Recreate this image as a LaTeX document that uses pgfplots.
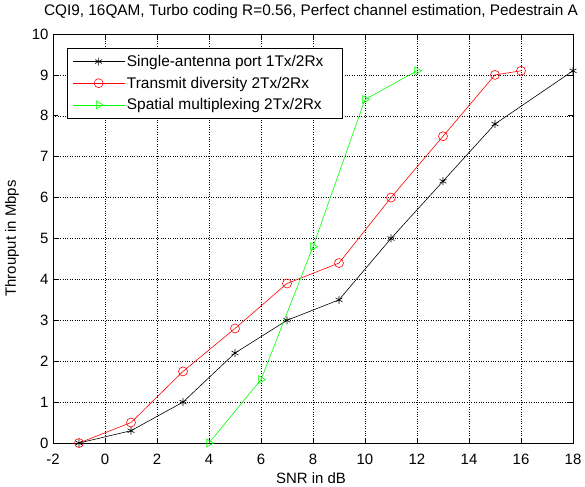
\documentclass[border=0pt]{standalone}
\usepackage{fontspec}
\setmainfont{Liberation Sans}
\usepackage{pgfplots}
\pgfplotsset{compat=1.18}
\begin{document}
\begin{tikzpicture}
\begin{axis}[
  at={(0,0)}, anchor=south west,
  scale only axis, width=520bp, height=409bp,
  xmin=-2, xmax=18, ymin=0, ymax=10,
  xtick={-2,0,...,18}, ytick={0,1,...,10},
  tick align=inside, tick pos=both,
  major tick length=5bp,
  grid=major,
  major grid style={dotted, black, line width=0.5pt},
  axis line style={black, line width=0.6pt},
  every tick/.style={black, line width=0.6pt},
  /pgf/number format/assume math mode=true,
  tick label style={font=\fontsize{15}{17}\selectfont},
  xticklabel style={yshift=-8bp},
  yticklabel style={xshift=-1bp},
  every axis title shift=0pt,
  title={CQI9, 16QAM, Turbo coding R=0.56, Perfect channel estimation, Pedestrain A},
  title style={font=\fontsize{15.4}{17}\selectfont, at={(axis description cs:0.5,1)}, anchor=center, yshift=22bp, xshift=-2bp},
  xlabel={SNR in dB}, ylabel={Throuput in Mbps},
  label style={font=\fontsize{15}{17}\selectfont},
  xlabel style={at={(axis description cs:0.5,0)}, anchor=center, yshift=-35bp, xshift=-2bp},
  ylabel style={at={(axis description cs:0,0.5)}, anchor=center, yshift=41bp},
  legend style={at={(0.027,0.966)}, anchor=north west, draw=black, line width=0.6pt,
    font=\fontsize{15.5}{17}\selectfont, inner xsep=5bp, inner ysep=5bp, row sep=5bp, cells={anchor=west},
    /tikz/every even column/.append style={column sep=1bp}},
  legend image code/.code={\draw[mark repeat=2,mark phase=2,#1] plot coordinates {(0bp,0bp)(26bp,0bp)(52bp,0bp)};},
]
\addplot[black, line width=0.6pt, mark=asterisk, mark size=4bp] coordinates {
(-1,0) (1,0.3) (3,1.0) (5,2.2) (7,3.0) (9,3.5) (11,5.0) (13,6.4) (15,7.8) (18,9.1)};
\addlegendentry{Single-antenna port 1Tx/2Rx\hspace*{12bp}}
\addplot[red, line width=0.6pt, mark=o, mark size=4.5bp] coordinates {
(-1,0) (1,0.5) (3,1.75) (5,2.8) (7,3.9) (9,4.4) (11,6.0) (13,7.5) (15,9.0) (16,9.1)};
\addlegendentry{Transmit diversity 2Tx/2Rx}
\addplot[green, line width=0.6pt, mark=triangle, mark size=4.5bp, mark options={rotate=-90}] coordinates {
(4,0) (6,1.55) (8,4.8) (10,8.4) (12,9.1)};
\addlegendentry{Spatial multiplexing 2Tx/2Rx}
\end{axis}
\pgfresetboundingbox
\useasboundingbox (-53bp,-44bp) rectangle (532bp,443bp);
\end{tikzpicture}
\end{document}
